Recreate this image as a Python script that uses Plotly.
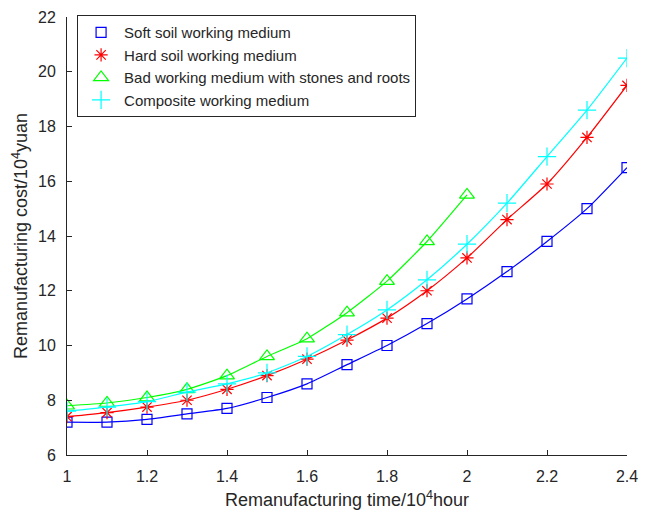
import plotly.graph_objects as go

x_full = [1.0, 1.1, 1.2, 1.3, 1.4, 1.5, 1.6, 1.7, 1.8, 1.9, 2.0, 2.1, 2.2, 2.3, 2.4]
x_bad = [1.0, 1.1, 1.2, 1.3, 1.4, 1.5, 1.6, 1.7, 1.8, 1.9, 2.0]

soft = [7.2, 7.2, 7.3, 7.5, 7.7, 8.1, 8.6, 9.3, 10.0, 10.8, 11.7, 12.7, 13.8, 15.0, 16.5]
hard = [7.4, 7.55, 7.75, 8.0, 8.4, 8.9, 9.5, 10.2, 11.0, 12.0, 13.2, 14.6, 15.9, 17.6, 19.5]
bad = [7.8, 7.9, 8.1, 8.4, 8.9, 9.6, 10.25, 11.2, 12.35, 13.8, 15.5]
composite = [7.6, 7.75, 7.95, 8.3, 8.6, 9.0, 9.6, 10.4, 11.3, 12.4, 13.7, 15.2, 16.9, 18.6, 20.5]

names = ["Soft soil working medium", "Hard soil working medium",
         "Bad working medium with stones and roots", "Composite working medium"]
x_ticks = [1, 1.2, 1.4, 1.6, 1.8, 2, 2.2, 2.4]
y_ticks = [6, 8, 10, 12, 14, 16, 18, 20, 22]

series = [
    (x_full, soft, names[0], "#0000FF", "square-open", 10),
    (x_full, hard, names[1], "#FF0000", "asterisk-open", 11),
    (x_bad, bad, names[2], "#00FF00", "triangle-up-open", 13),
    (x_full, composite, names[3], "#00FFFF", "cross-thin-open", 13),
]

FONT = "Liberation Sans, Arial, sans-serif"
fig = go.Figure()
for xs, ys, nm, col, sym, sz in series:
    fig.add_trace(go.Scatter(
        x=xs, y=ys, mode="lines", showlegend=False, hoverinfo="skip",
        line=dict(color=col, width=1.2, shape="spline", smoothing=0.6),
    ))
    fig.add_trace(go.Scatter(
        x=xs, y=ys, name=nm, mode="markers",
        marker=dict(symbol=sym, size=sz, color=col, line=dict(color=col, width=1.2)),
    ))

axis_common = dict(
    showgrid=False, zeroline=False, showline=True, linecolor="#262626", linewidth=1,
    ticks="inside", ticklen=5, tickcolor="#262626", automargin=False,
    tickfont=dict(family=FONT, size=16, color="#262626"),
    mirror=False,
)

fig.update_layout(
    width=654, height=518,
    margin=dict(l=59, r=35, t=8, b=71),
    paper_bgcolor="white", plot_bgcolor="white",
    font=dict(family=FONT, color="#262626"),
    xaxis=dict(range=[1, 2.4], tickvals=x_ticks, ticktext=[str(t) for t in x_ticks],
               ticklabelstandoff=7,
               title=dict(text="Remanufacturing time/10<sup>4</sup>hour",
                          font=dict(size=18, color="#262626"), standoff=9),
               **axis_common),
    yaxis=dict(range=[6, 22], tickvals=y_ticks, ticklabelstandoff=7,
               title=dict(text="Remanufacturing cost/10<sup>4</sup>yuan",
                          font=dict(size=18, color="#262626"), standoff=5),
               **axis_common),
    legend=dict(x=0.018, y=1.002, xanchor="left", yanchor="top",
                bgcolor="white", bordercolor="#262626", borderwidth=1,
                font=dict(family=FONT, size=15, color="#262626"), tracegroupgap=0,
                itemwidth=36),
    showlegend=True,
)

fig.write_html("out.html")
